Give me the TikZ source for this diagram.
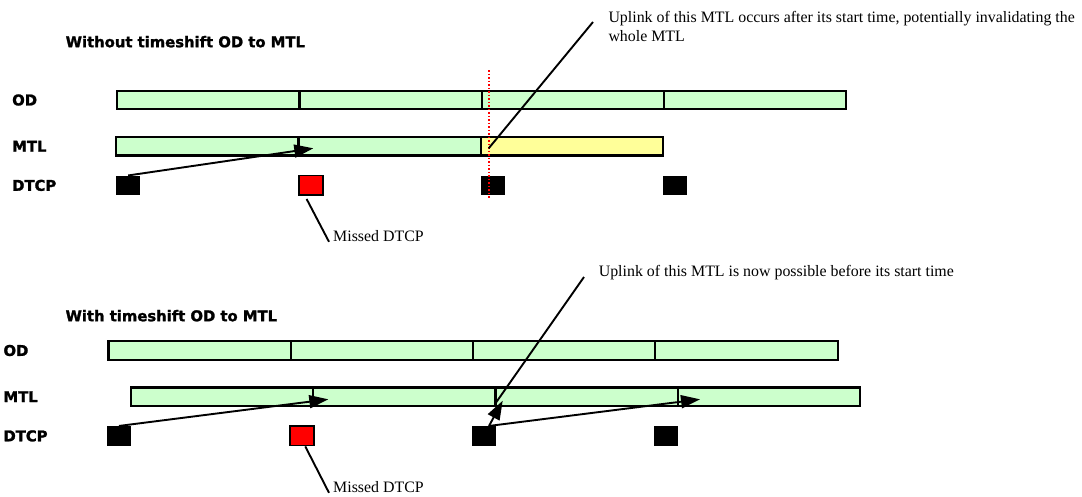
\documentclass[tikz,border=0pt]{standalone}
\usepackage{fontspec}
\setmainfont{Liberation Serif}
\newfontfamily\headfont{DejaVu Sans}[BoldFeatures={FakeBold=1.6}]
\usetikzlibrary{arrows.meta}

\definecolor{slotgreen}{HTML}{CCFFCC}
\definecolor{slotyellow}{HTML}{FFFF99}

\tikzset{
  slot/.style={draw=black, line width=2.2pt, fill=slotgreen, minimum width=182.3pt,
    minimum height=18.5pt, inner sep=0pt, anchor=west},
  dtcpbox/.style={fill=black, minimum width=24pt, minimum height=19.5pt, inner sep=0pt, anchor=west},
  missedbox/.style={dtcpbox, fill=red, draw=black, line width=1.6pt},
  rowlabel/.style={font=\headfont\bfseries\fontsize{14.8}{17}\selectfont, anchor=west, inner sep=0pt},
  note/.style={font=\fontsize{15.9}{18.7}\selectfont, inner sep=0pt, align=left},
  uplink/.style={-{Triangle[length=19pt,width=13pt]}, line width=1.9pt},
  pointer/.style={line width=1.9pt}
}

\begin{document}
\begin{tikzpicture}[x=1pt, y=-1pt]
\useasboundingbox (0,0) rectangle (1082,496);

% Without timeshift
\node[rowlabel] (titleA) at (65.5,41.7) {Without timeshift OD to MTL};
\node[rowlabel] (odA) at (12,100) {OD};
\node[rowlabel] (mtlA) at (12,146.2) {MTL};
\node[rowlabel] (dtcpA) at (12,185.4) {DTCP};

\foreach \i in {0,...,3}
    \node[slot] (odA\i) at (116+182.3*\i,100) {};
\foreach \i in {0,1}
    \node[slot] (mtlA\i) at (115+182.3*\i,146.2) {};
\node[slot, fill=slotyellow] (mtlA2) at (115+182.3*2,146.2) {};

\foreach \i in {0,2,3}
    \node[dtcpbox] (dA\i) at (116+182.3*\i,185.4) {};
\node[missedbox] (dA1) at (116+182.3,185.4) {};

% late uplink marker
\coordinate (lateTop) at (488.7,70);
\coordinate (lateBot) at (488.7,199.3);
\coordinate (lateMtl) at (488.7,148.3);
\draw[red, line width=1.6pt, dash pattern=on 1.5pt off 2pt] (lateTop) -- (lateBot);

\coordinate (tipA) at (313.3,148.3);
\draw[uplink] (dA0.north) -- (tipA);

\node[note, anchor=west] (missA) at (333,236) {Missed DTCP};
\draw[pointer] ([xshift=-4.5pt, yshift=-3pt]dA1.south) -- ([xshift=-4pt]missA.south west);

\node[note, anchor=north west] (noteA) at (608.3,11.5)
    {Uplink of this MTL occurs after its start time, potentially invalidating the\\whole MTL};
\coordinate (noteEndA) at (593,22);
\draw[pointer] (lateMtl) -- (noteEndA);

% With timeshift
\begin{scope}[shift={(-8.7,250.5)}]
\node[rowlabel] (titleB) at (74.1,65.2) {With timeshift OD to MTL};
\node[rowlabel] (odB) at (12,100) {OD};
\node[rowlabel] (mtlB) at (12,146.2) {MTL};
\node[rowlabel] (dtcpB) at (12,185.4) {DTCP};

\foreach \i in {0,...,3}
    \node[slot] (odB\i) at (116+182.3*\i,100) {};
\foreach \i in {0,...,3}
    \node[slot] (mtlB\i) at (138.4+182.3*\i,146.2) {};

\foreach \i in {0,2,3}
    \node[dtcpbox] (dB\i) at (115.4+182.3*\i,185.4) {};
\node[missedbox] (dB1) at (115.4+182.3,185.4) {};

\coordinate (tipB0) at (337,148.8);
\coordinate (tipB1) at (511.4,150.2);
\coordinate (tipB2) at (708.7,148.8);
\draw[uplink] (dB0.north) -- (tipB0);
\draw[uplink] ([xshift=5.5pt]dB2.north) -- (tipB1);
\draw[uplink] ([xshift=5.5pt]dB2.north) -- (tipB2);

\node[note, anchor=west] (missB) at (341.7,236.5) {Missed DTCP};
\draw[pointer] ([xshift=3.5pt]dB1.south) -- ([xshift=-4pt]missB.south west);

\node[note, anchor=west] (noteB) at (607.3,22.5)
    {Uplink of this MTL is now possible before its start time};
\coordinate (onMtlB) at (503.7,153.5);
\coordinate (noteEndB) at (592.7,26.5);
\draw[pointer] (onMtlB) -- (noteEndB);
\end{scope}
\end{tikzpicture}
\end{document}
